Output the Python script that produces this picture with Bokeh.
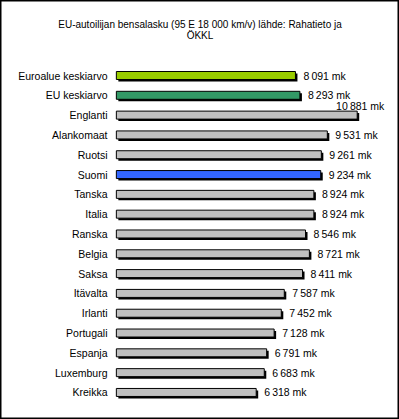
from bokeh.plotting import figure
from bokeh.models import Range1d, ColumnDataSource, Label
from bokeh.core.properties import value
from bokeh.embed import file_html
from bokeh.resources import INLINE

title_lines = ["EU-autoilijan bensalasku (95 E 18 000 km/v) lähde: Rahatieto ja", "ÖKKL"]
categories = ["Euroalue keskiarvo", "EU keskiarvo", "Englanti", "Alankomaat", "Ruotsi",
              "Suomi", "Tanska", "Italia", "Ranska", "Belgia", "Saksa", "Itävalta",
              "Irlanti", "Portugali", "Espanja", "Luxemburg", "Kreikka"]
costs = [8091, 8293, 10881, 9531, 9261, 9234, 8924, 8924, 8546, 8721, 8411, 7587,
         7452, 7128, 6791, 6683, 6318]
unit = "mk"

W, H = 399, 419
FONT = "Liberation Sans"
ppu = 0.022135          # pixels per mk
zero_px = 115.85        # pixel of value 0
pitch = 19.81           # row pitch in pixels
first_px = 75.0         # centre of first row

colors = []
for c in categories:
    if c == "Euroalue keskiarvo":
        colors.append("#99CC00")
    elif c == "EU keskiarvo":
        colors.append("#339966")
    elif c == "Suomi":
        colors.append("#3366FF")
    else:
        colors.append("#C0C0C0")

p = figure(width=W, height=H, output_backend="svg", toolbar_location=None,
           x_range=Range1d(-zero_px / ppu, (W - zero_px) / ppu),
           y_range=Range1d((H - first_px) / pitch, -first_px / pitch),
           min_border=0, min_border_left=0, min_border_right=0,
           min_border_top=0, min_border_bottom=0)
p.axis.visible = False
p.grid.visible = False
p.background_fill_color = "white"
p.border_fill_color = "white"
p.outline_line_color = "black"
p.outline_line_width = 2

idx = list(range(len(categories)))
dx = 2 / ppu
dy = 2 / pitch
bh = 8 / pitch

def fmt(v):
    return f"{v:,}".replace(",", "\u2009") + " " + unit

labels = [fmt(v) for v in costs]
lab_x, lab_y, lab_align = [], [], []
for i, v in enumerate(costs):
    end_px = zero_px + v * ppu
    if end_px + 8 + 46 > W - 2:
        lab_x.append(v + 3 / ppu)
        lab_y.append(i - 9.5 / pitch)
        lab_align.append("center")
    else:
        lab_x.append(v + 8 / ppu)
        lab_y.append(i)
        lab_align.append("left")

src = ColumnDataSource(dict(
    y=idx, ys=[i + dy for i in idx], right=costs, rs=[v + dx for v in costs],
    color=colors, cat=categories, lab=labels, lx=lab_x, ly=lab_y, la=lab_align,
))

p.hbar(y="ys", left=dx, right="rs", height=bh, source=src,
       fill_color="black", line_color=None)
p.hbar(y="y", left=0, right="right", height=bh, source=src,
       fill_color="color", line_color="black", line_width=1)

p.text(x=-(zero_px - 107) / ppu, y="y", text="cat", source=src,
       text_align="right", text_baseline="middle",
       text_font=value(FONT), text_font_size="10.5px", text_color="black")
p.text(x="lx", y="ly", text="lab", source=src, text_align="la",
       text_baseline="middle", text_font=value(FONT), text_font_size="10.5px",
       text_color="black")

for k, line in enumerate(title_lines):
    p.add_layout(Label(x=W / 2, y=H - 24 - 11 * k, x_units="screen", y_units="screen",
                       text=line, text_align="center", text_baseline="middle",
                       text_font=FONT, text_font_size="10px", text_color="black"))

open("out.html", "w").write(file_html(p, INLINE))
